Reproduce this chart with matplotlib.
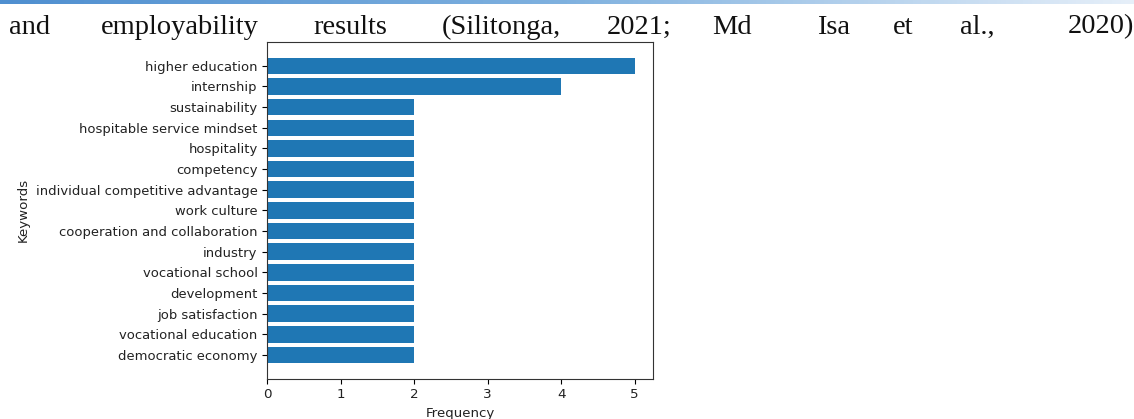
import numpy as np
import matplotlib
matplotlib.use("Agg")
import matplotlib.pyplot as plt
from matplotlib.colors import LinearSegmentedColormap

keywords = ['higher education', 'internship', 'sustainability',
            'hospitable service mindset', 'hospitality', 'competency',
            'individual competitive advantage', 'work culture',
            'cooperation and collaboration', 'industry', 'vocational school',
            'development', 'job satisfaction', 'vocational education',
            'democratic economy']
freqs = [5, 4, 2, 2, 2, 2, 2, 2, 2, 2, 2, 2, 2, 2, 2]

# words of the justified body text line above the figure, with left x (px)
line_words = ['and', 'employability', 'results', '(Silitonga,', '2021;',
              'Md', 'Isa', 'et', 'al.,', '2020)']
word_x = [9, 101, 313, 442, 607, 712, 817, 893, 960, 1068]

W, H = 1134, 419
fig = plt.figure(figsize=(W / 100, H / 100), dpi=100)

# blue gradient rule at the very top of the page
gax = fig.add_axes([0, 1 - 4 / H, 1, 4 / H])
cmap = LinearSegmentedColormap.from_list('rule', ['#4f8fd0', '#7fb1df', '#e6eff9'])
gax.imshow(np.linspace(0, 1, 256)[None, :], aspect='auto', cmap=cmap)
gax.axis('off')

for w, x in zip(line_words, word_x):
    fig.text(x / W, 1 - 33.5 / H, w, family='Liberation Serif', fontsize=20.5,
             ha='left', va='baseline', color='#111111')

ax = fig.add_axes([267.3 / W, (H - 378.5) / H, (653 - 267.3) / W, (378.5 - 42.3) / H])
y_pos = np.arange(len(keywords))
ax.barh(y_pos, freqs, align='center', color='#1f77b4')
ax.set_yticks(y_pos)
ax.set_yticklabels(keywords, fontsize=9.45, color='#222222')
ax.invert_yaxis()
ax.tick_params(axis='x', labelsize=9.7, labelcolor='#222222')
ax.set_xlabel('Frequency', fontsize=9.6, color='#222222')
ax.set_ylabel('Keywords', fontsize=9.6, color='#222222')
for s in ax.spines.values():
    s.set_color('#333333')

fig.savefig('out.png', dpi=100)
